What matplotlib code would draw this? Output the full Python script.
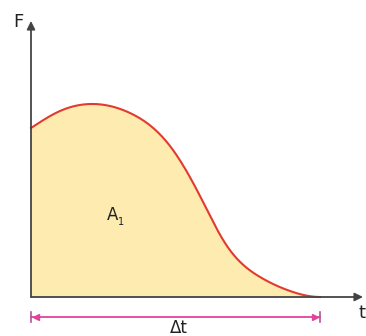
import numpy as np
import matplotlib.pyplot as plt

# curve (t and F in picture units, origin at the axes corner)
t = np.array([0, 29, 59, 99, 139, 169, 194, 229, 259, 289])
F = np.array([169, 186, 193, 184, 151, 101, 54, 20, 6, 0])
dt_end = 289


def cubic_spline(x, y, n=400, end_slope=0.0):
    # natural start, clamped end slope
    x = x.astype(float); y = y.astype(float)
    m = len(x)
    h = np.diff(x)
    A = np.zeros((m, m)); b = np.zeros(m)
    A[0, 0] = 1
    for i in range(1, m - 1):
        A[i, i - 1] = h[i - 1]
        A[i, i] = 2 * (h[i - 1] + h[i])
        A[i, i + 1] = h[i]
        b[i] = 6 * ((y[i + 1] - y[i]) / h[i] - (y[i] - y[i - 1]) / h[i - 1])
    A[-1, -2] = h[-1]; A[-1, -1] = 2 * h[-1]
    b[-1] = 6 * (end_slope - (y[-1] - y[-2]) / h[-1])
    M = np.linalg.solve(A, b)
    xs = np.linspace(x[0], x[-1], n)
    i = np.clip(np.searchsorted(x, xs) - 1, 0, m - 2)
    dx1 = x[i + 1] - xs; dx0 = xs - x[i]; hi = h[i]
    ys = (M[i] * dx1 ** 3 / (6 * hi) + M[i + 1] * dx0 ** 3 / (6 * hi)
          + (y[i] / hi - M[i] * hi / 6) * dx1 + (y[i + 1] / hi - M[i + 1] * hi / 6) * dx0)
    return xs, ys


plt.rcParams['font.family'] = ['DejaVu Sans']
fig = plt.figure(figsize=(3.66, 3.36), dpi=100)
ax = fig.add_axes([0, 0, 1, 1])
ax.set_xlim(-31, 335)
ax.set_ylim(-39, 297)
ax.axis('off')

ts, Fs = cubic_spline(t, F)
ax.fill_between(ts, 0, Fs, color='#FDEBB0', lw=0, zorder=1)
ax.plot(ts, Fs, color='#E23B2E', lw=1.5, zorder=3)

# axes with arrows
ax.annotate('', xy=(332, 0), xytext=(0, 0),
            arrowprops=dict(arrowstyle='-|>', color='#444444', lw=1.3,
                            mutation_scale=12, shrinkA=0, shrinkB=0), zorder=4)
ax.annotate('', xy=(0, 276), xytext=(0, 0),
            arrowprops=dict(arrowstyle='-|>', color='#444444', lw=1.3,
                            mutation_scale=12, shrinkA=0, shrinkB=0), zorder=4)
ax.text(-13, 275, 'F', fontsize=13, color='#222222', ha='center', va='center')
ax.text(331, -16, 't', fontsize=13, color='#222222', ha='center', va='center')

# delta t bar
yb = -20
ax.plot([0, dt_end], [yb, yb], color='#E0449C', lw=1.3)
ax.plot([0, 0], [yb - 5, yb + 5], color='#B0589A', lw=1.2)
ax.plot([dt_end, dt_end], [yb - 5, yb + 5], color='#B0589A', lw=1.2)
ax.plot([5], [yb], marker='<', color='#E0449C', ms=4)
ax.plot([dt_end - 5], [yb], marker='>', color='#E0449C', ms=4)
ax.text(148, -31, 'Δt', fontsize=12, color='#222222', ha='center', va='center')

ax.text(82, 82, 'A', fontsize=12, color='#222222', ha='center', va='center')
ax.text(90, 75, '1', fontsize=7, color='#222222', ha='center', va='center')

fig.savefig('out.png', dpi=100)
